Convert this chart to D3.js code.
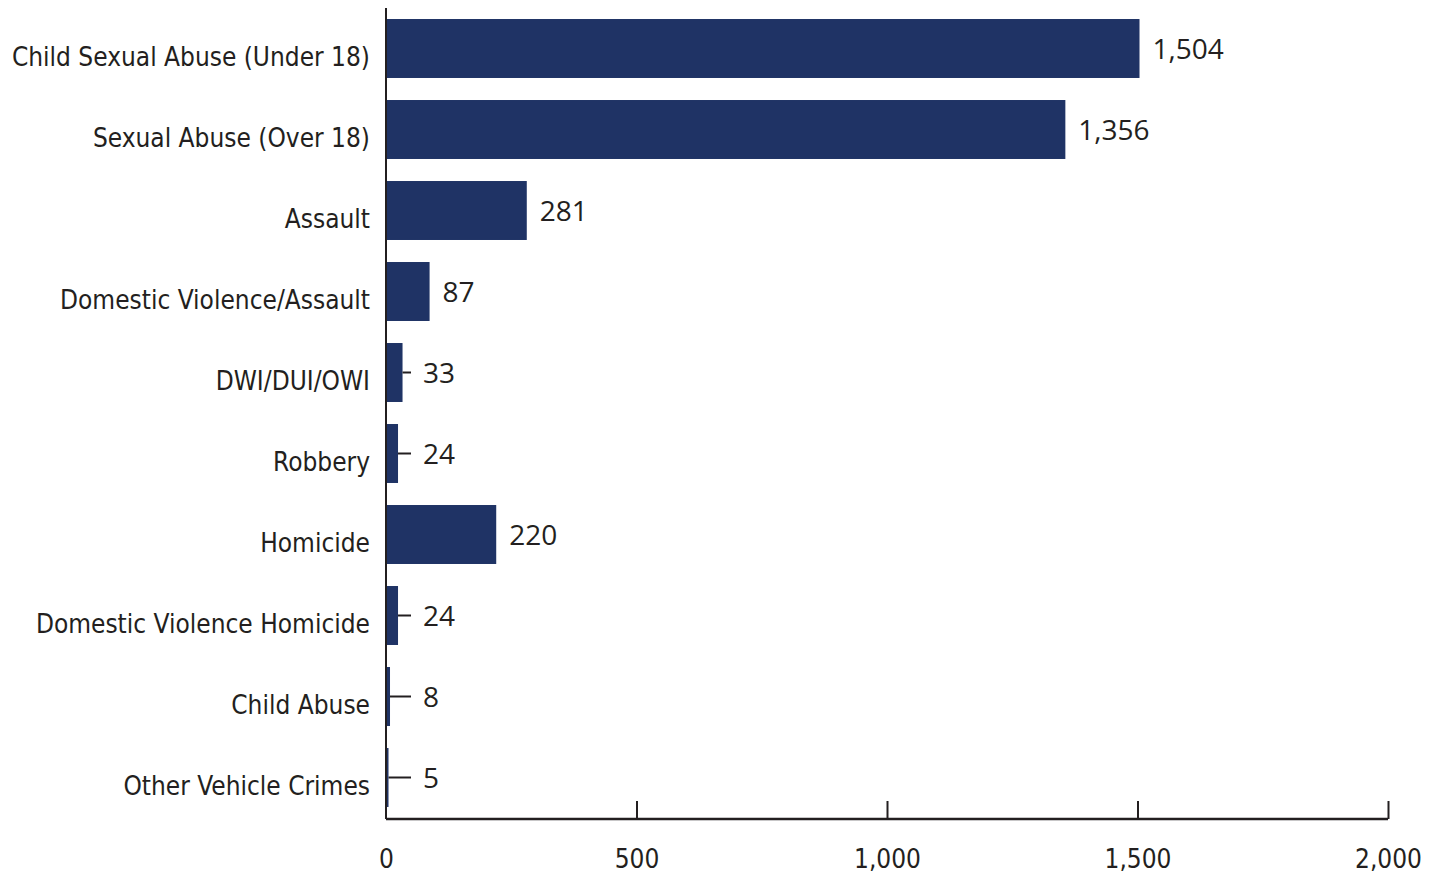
<!DOCTYPE html>
<html><head><meta charset="utf-8">
<script src="https://cdn.jsdelivr.net/npm/d3@7"></script>
<style>body{margin:0;background:#fff}svg{display:block}</style>
</head><body>
<svg id="chart" width="1438" height="875"></svg>
<script>
const categories = ["Child Sexual Abuse (Under 18)","Sexual Abuse (Over 18)","Assault","Domestic Violence/Assault","DWI/DUI/OWI","Robbery","Homicide","Domestic Violence Homicide","Child Abuse","Other Vehicle Crimes"];
const values = [1504,1356,281,87,33,24,220,24,8,5];
const xTicks = [0,500,1000,1500,2000];

const svg = d3.select("#chart");
const barColor = "#1f3365", ink = "#231f20";
const catFont = "'DejaVu Sans Condensed','Liberation Sans Narrow',sans-serif";
const numFont = "'Open Sans',sans-serif";

const x = d3.scaleLinear().domain([0,2000]).range([386,1388]);
const y = d3.scaleBand().domain(categories).range([8,818]).paddingInner(0.272).paddingOuter(0.136);

const data = categories.map((c,i)=>({c, v: values[i]}));

// bars
svg.append("g").selectAll("rect").data(data).join("rect")
  .attr("x", x(0)).attr("y", d=>y(d.c))
  .attr("width", d=>x(d.v)-x(0)).attr("height", y.bandwidth())
  .attr("fill", barColor);

// value labels with leaders for small bars
const minLabelX = 423;
const lab = svg.append("g");
data.forEach(d=>{
  const end = x(d.v);
  const cy = y(d.c) + y.bandwidth()/2;
  let lx = end + 13;
  if (lx < minLabelX) {
    lab.append("line").attr("x1", end).attr("x2", 411).attr("y1", cy).attr("y2", cy)
      .attr("stroke", ink).attr("stroke-width", 2);
    lx = minLabelX;
  }
  lab.append("text").attr("x", lx).attr("y", cy).attr("dy", "0.38em")
    .attr("font-family", numFont).attr("font-size", 28).attr("fill", ink)
    .text(d3.format(",")(d.v));
});

// y axis
const yAxis = d3.axisLeft(y).tickSize(0).tickPadding(16);
const gy = svg.append("g").attr("transform", `translate(${x(0)},0)`).call(yAxis);
gy.select(".domain").attr("stroke", ink).attr("stroke-width", 2).attr("d", "M0,8V819");
gy.selectAll("text").attr("font-family", catFont).attr("font-size", 26).attr("fill", ink).attr("dy", "0.68em");

// x axis
const xAxis = d3.axisTop(x).tickValues(xTicks).tickSize(18).tickFormat(d3.format(","));
const gx = svg.append("g").attr("transform", "translate(0,819)").call(xAxis);
gx.select(".domain").attr("stroke", ink).attr("stroke-width", 2.5).attr("d", `M${x(0)},0H${x(2000)}`);
gx.selectAll(".tick line").attr("stroke", ink).attr("stroke-width", 2).filter(d=>d===0).remove();
gx.selectAll(".tick text").attr("font-family", catFont).attr("font-size", 26).attr("fill", ink)
  .attr("y", 49).attr("dy", "0");
</script>
</body></html>
